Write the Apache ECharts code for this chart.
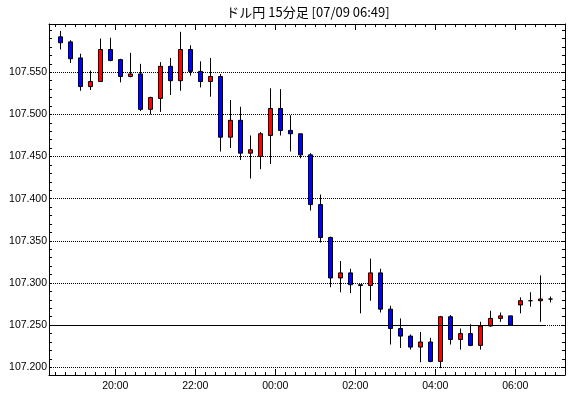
<!DOCTYPE html>
<html>
<head>
<meta charset="utf-8">
<script src="https://cdn.jsdelivr.net/npm/echarts@6.0.0/dist/echarts.min.js"></script>
<style>
  html, body { margin: 0; padding: 0; background: #ffffff; }
  #chart { width: 570px; height: 398px; }
</style>
</head>
<body>
<div id="chart"></div>
<script>
// ---- Data (USD/JPY 15-minute candles, 18:30 -> 06:45) ----
const titleText = 'ドル円 15分足 [07/09 06:49]';
const timeLabels = ['20:00', '22:00', '00:00', '02:00', '04:00', '06:00'];
const priceLabels = [107.200, 107.250, 107.300, 107.350, 107.400, 107.450, 107.500, 107.550];
const firstLabelSlot = 6;   // candle index where 20:00 starts
const slotsPerLabel = 8;    // 8 x 15 min = 2 hours
const refLevel = 107.250;

const openVals = [
  107.592, 107.586, 107.567, 107.533, 107.539, 107.577, 107.565, 107.545, 107.548, 107.506,
  107.519, 107.557, 107.540, 107.577, 107.551, 107.539, 107.545, 107.473, 107.493, 107.454,
  107.450, 107.475, 107.507, 107.481, 107.477, 107.452, 107.393, 107.354, 107.306, 107.312,
  107.298, 107.297, 107.312, 107.269, 107.246, 107.237, 107.224, 107.230, 107.207, 107.260,
  107.233, 107.240, 107.226, 107.249, 107.258, 107.261, 107.274, 107.279, 107.279, 107.281
];
const closeVals = [
  107.585, 107.566, 107.533, 107.539, 107.577, 107.564, 107.545, 107.548, 107.506, 107.520,
  107.557, 107.540, 107.577, 107.551, 107.539, 107.545, 107.473, 107.493, 107.454, 107.458,
  107.477, 107.507, 107.481, 107.477, 107.452, 107.393, 107.354, 107.306, 107.312, 107.298,
  107.297, 107.312, 107.269, 107.246, 107.237, 107.224, 107.230, 107.207, 107.260, 107.233,
  107.240, 107.226, 107.249, 107.258, 107.261, 107.250, 107.279, 107.279, 107.281, 107.281
];
const lowVals = [
  107.577, 107.561, 107.528, 107.529, 107.539, 107.563, 107.538, 107.544, 107.504, 107.500,
  107.503, 107.523, 107.528, 107.546, 107.532, 107.521, 107.456, 107.460, 107.446, 107.424,
  107.435, 107.441, 107.475, 107.456, 107.448, 107.386, 107.348, 107.295, 107.289, 107.288,
  107.264, 107.279, 107.265, 107.227, 107.223, 107.221, 107.206, 107.206, 107.199, 107.227,
  107.221, 107.225, 107.221, 107.248, 107.254, 107.250, 107.264, 107.272, 107.254, 107.277
];
const highVals = [
  107.599, 107.588, 107.572, 107.552, 107.590, 107.591, 107.566, 107.573, 107.560, 107.521,
  107.562, 107.567, 107.598, 107.582, 107.563, 107.567, 107.548, 107.517, 107.509, 107.475,
  107.479, 107.531, 107.530, 107.499, 107.477, 107.454, 107.405, 107.355, 107.326, 107.317,
  107.298, 107.329, 107.317, 107.273, 107.258, 107.239, 107.242, 107.235, 107.261, 107.262,
  107.246, 107.251, 107.254, 107.267, 107.265, 107.261, 107.283, 107.289, 107.309, 107.284
];

// ---- Axis ranges ----
const xMin = -0.63, xMax = 50.97;          // in 15-minute slots
const yMin = 107.19087, yMax = 107.60724;  // price
const uMin = (xMin - firstLabelSlot) / slotsPerLabel;
const uMax = (xMax - firstLabelSlot) / slotsPerLabel;

const candleData = openVals.map((o, i) => [i + 0.5, o, closeVals[i], lowVals[i], highVals[i]]);

const FONT = 'Liberation Sans';
const black = '#000000';

function minorX(pos) {
  return {
    type: 'value', position: pos, min: xMin, max: xMax, splitNumber: 50,
    axisLine: { show: true, onZero: false, lineStyle: { color: black, width: 1 } },
    axisTick: { show: true, inside: true, length: 3, lineStyle: { color: black, width: 1 } },
    axisLabel: { show: false }, splitLine: { show: false }
  };
}
function majorX(pos, withLabels) {
  return {
    type: 'value', position: pos, min: uMin, max: uMax, splitNumber: 6,
    axisLine: { show: false, onZero: false },
    axisTick: { show: true, inside: true, length: 6, lineStyle: { color: black, width: 1 } },
    axisLabel: {
      show: withLabels, margin: 6, color: black, fontSize: 10.5, fontFamily: FONT,
      showMinLabel: false, showMaxLabel: false,
      formatter: function (v) {
        const k = Math.round(v);
        if (Math.abs(v - k) > 1e-6) return '';
        return timeLabels[k] || '';
      }
    },
    splitLine: { show: false }
  };
}
function minorY(pos) {
  return {
    type: 'value', position: pos, min: yMin, max: yMax, splitNumber: 42, scale: true,
    axisLine: { show: true, onZero: false, lineStyle: { color: black, width: 1 } },
    axisTick: { show: true, inside: true, length: 3, lineStyle: { color: black, width: 1 } },
    axisLabel: { show: false }, splitLine: { show: false }
  };
}

const option = {
  animation: false,
  backgroundColor: '#ffffff',
  title: {
    text: titleText, left: 308, top: 6, padding: 0, textAlign: 'center',
    textStyle: { fontSize: 13, fontWeight: 'normal', color: black, fontFamily: 'Noto Sans CJK JP' }
  },
  grid: { left: 49, right: 5, top: 24, bottom: 23, containLabel: false },
  xAxis: [ minorX('bottom'), minorX('top'), majorX('bottom', true), majorX('top', false) ],
  yAxis: [
    minorY('left'),
    minorY('right'),
    {
      type: 'value', position: 'left', min: yMin, max: yMax, scale: true,
      axisLine: { show: false, onZero: false },
      axisTick: { show: false, customValues: priceLabels },
      axisLabel: {
        show: true, margin: 2, color: black, fontSize: 10.5, fontFamily: FONT,
        customValues: priceLabels,
        formatter: function (v) { return v.toFixed(3); }
      },
      splitLine: { show: true, showMinLine: true, showMaxLine: true, lineStyle: { color: black, width: 1, type: [1, 1] } }
    }
  ],
  series: [{
    type: 'candlestick',
    xAxisIndex: 0, yAxisIndex: 0,
    barWidth: 5,
    data: candleData,
    itemStyle: {
      color: '#ff0000', color0: '#0000ff',
      borderColor: black, borderColor0: black, borderColorDoji: black, borderWidth: 1
    },
    emphasis: { disabled: true },
    markLine: {
      silent: true, symbol: ['none', 'none'], label: { show: false },
      lineStyle: { color: black, width: 1, type: 'solid' },
      emphasis: { disabled: true },
      data: [[ { coord: [xMin, refLevel] }, { coord: [openVals.length - 1, refLevel] } ]]
    }
  }]
};

const chart = echarts.init(document.getElementById('chart'), null, { renderer: 'canvas' });
chart.setOption(option);
</script>
</body>
</html>
